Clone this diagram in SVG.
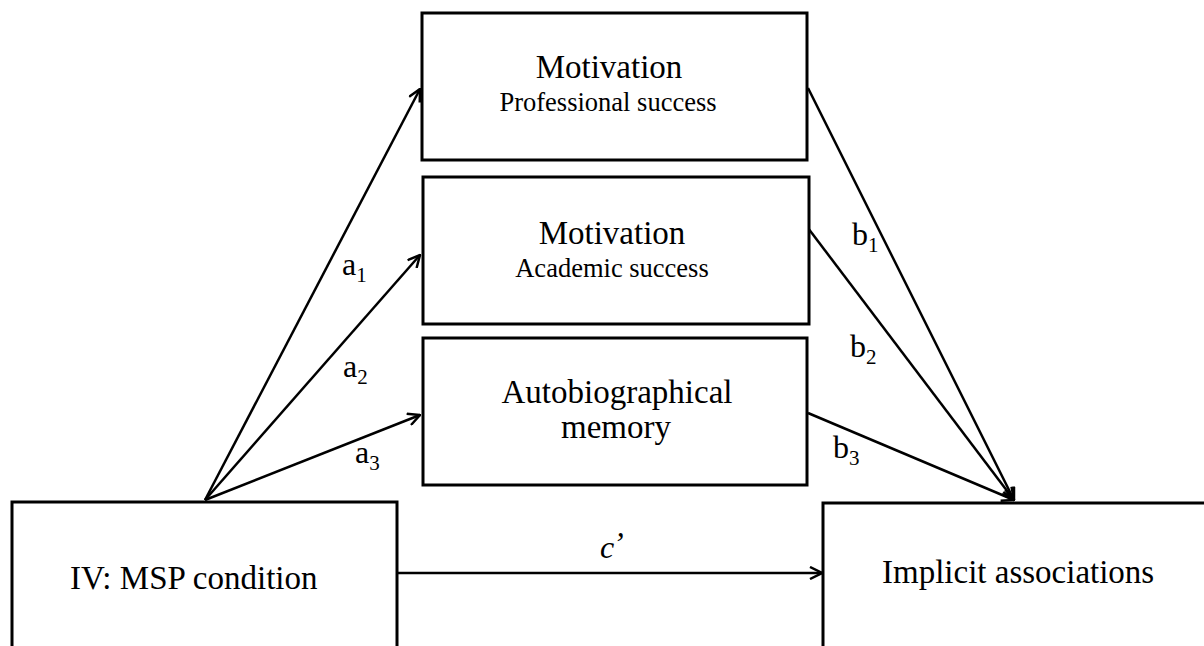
<svg xmlns="http://www.w3.org/2000/svg" width="1204" height="646" viewBox="0 0 1204 646">
<style>
.box{fill:#fff;stroke:#000;stroke-width:3}
.t{font-family:"Liberation Serif","Times New Roman",serif;fill:#000}
.title{font-size:33px;text-anchor:middle}
.sub{font-size:26.5px;text-anchor:middle}
.lbl{font-size:32px}
.subs{font-size:21px}
.conn line{stroke:#000;stroke-width:2.5;marker-end:url(#arr)}
</style>
<defs>
<marker id="arr" viewBox="0 0 14 14" refX="13" refY="7" markerWidth="14" markerHeight="14" markerUnits="userSpaceOnUse" orient="auto">
<path d="M1,1 L13,7 L1,13" fill="none" stroke="#000" stroke-width="2.5"/>
</marker>
</defs>
<rect width="1204" height="646" fill="#fff"/>
<g id="conn" class="conn">
<line x1="205" y1="500" x2="420" y2="89"/>
<line x1="205" y1="500" x2="420" y2="255"/>
<line x1="205" y1="500" x2="420" y2="415"/>
<line x1="808" y1="88" x2="1014" y2="500"/>
<line x1="808" y1="228" x2="1014" y2="500"/>
<line x1="808" y1="413" x2="1014" y2="500"/>
<line x1="397" y1="573" x2="822" y2="573"/>
</g>
<g id="labels" class="t">
<text class="lbl" x="342" y="275">a<tspan class="subs" dy="7">1</tspan></text>
<text class="lbl" x="343" y="377">a<tspan class="subs" dy="7">2</tspan></text>
<text class="lbl" x="355" y="463">a<tspan class="subs" dy="7">3</tspan></text>
<text class="lbl" x="852" y="245">b<tspan class="subs" dy="7">1</tspan></text>
<text class="lbl" x="850" y="357">b<tspan class="subs" dy="7">2</tspan></text>
<text class="lbl" x="833" y="458">b<tspan class="subs" dy="7">3</tspan></text>
<text class="lbl" x="600" y="558" font-style="italic">c</text>
<text class="lbl" x="613" y="554" font-style="italic">’</text>
</g>
<g id="node-professional">
<rect class="box" x="422" y="13" width="385" height="147"/>
<text class="t title" x="609" y="78">Motivation</text>
<text class="t sub" x="608" y="111">Professional success</text>
</g>
<g id="node-academic">
<rect class="box" x="423" y="177" width="386" height="147"/>
<text class="t title" x="612" y="244">Motivation</text>
<text class="t sub" x="612" y="277">Academic success</text>
</g>
<g id="node-memory">
<rect class="box" x="423" y="338" width="384" height="147"/>
<text class="t title" x="617" y="403">Autobiographical</text>
<text class="t title" x="616" y="438">memory</text>
</g>
<g id="node-iv">
<rect class="box" x="12" y="502" width="385" height="170"/>
<text class="t" x="70" y="589" font-size="33">IV: MSP condition</text>
</g>
<g id="node-implicit">
<rect class="box" x="823" y="503" width="400" height="170"/>
<text class="t" x="882" y="583" font-size="33">Implicit associations</text>
</g>
</svg>
